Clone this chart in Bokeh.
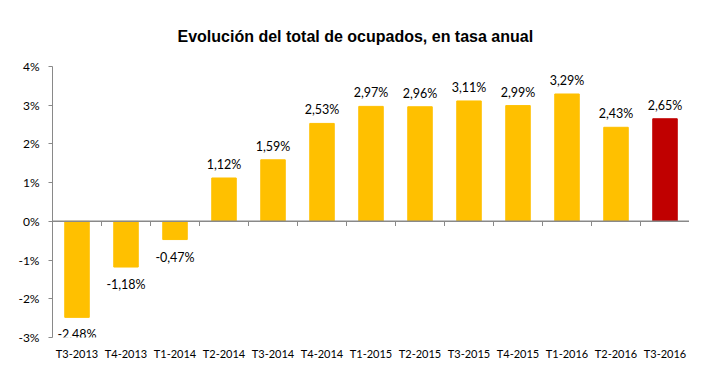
import numpy as np
from bokeh.plotting import figure
from bokeh.models import ColumnDataSource, FixedTicker, Span, Range1d
from bokeh.core.properties import value
from bokeh.embed import file_html
from bokeh.resources import INLINE

categories = ["T3-2013", "T4-2013", "T1-2014", "T2-2014", "T3-2014", "T4-2014", "T1-2015",
              "T2-2015", "T3-2015", "T4-2015", "T1-2016", "T2-2016", "T3-2016"]
values = [-2.48, -1.18, -0.47, 1.12, 1.59, 2.53, 2.97, 2.96, 3.11, 2.99, 3.29, 2.43, 2.65]
labels = ["-2,48%", "-1,18%", "-0,47%", "1,12%", "1,59%", "2,53%", "2,97%", "2,96%", "3,11%",
          "2,99%", "3,29%", "2,43%", "2,65%"]
y_ticks = [-3, -2, -1, 0, 1, 2, 3, 4]
y_tick_labels = ["-3%", "-2%", "-1%", "0%", "1%", "2%", "3%", "4%"]

n = len(categories)
xs = np.arange(n)
colors = ["#FFC000"] * (n - 1) + ["#C00000"]
GRAY = "#898989"

p = figure(width=689, height=362, output_backend="svg", toolbar_location=None,
           x_range=Range1d(-0.5, n - 0.5), y_range=Range1d(-3, 4),
           min_border_left=52, min_border_right=0, min_border_top=66, min_border_bottom=10,
           title="Evolución del total de ocupados, en tasa anual")
p.title.text_font = "Liberation Sans"
p.title.text_font_size = "16px"
p.title.text_font_style = "bold"
p.title.align = "left"
p.title.offset = 125
p.title.standoff = 43
p.title.text_color = "#000000"

src = ColumnDataSource(dict(x=xs, top=values, color=colors))
p.vbar(x="x", top="top", bottom=0, width=0.5, color="color", source=src)

zero = Span(location=0, dimension="width", line_color=GRAY, line_width=1.5)
p.add_layout(zero)

# small boundary ticks on the zero line
bx = np.append(xs[1:] - 0.5, n - 0.5)
p.segment(x0=bx, x1=bx, y0=[0] * len(bx), y1=[-0.12] * len(bx), line_color=GRAY, line_width=1)

# value labels
pos_idx = [i for i, v in enumerate(values) if v >= 0]
neg_idx = [i for i, v in enumerate(values) if v < 0]
p.text(x=[xs[i] for i in pos_idx], y=[values[i] for i in pos_idx], text=[labels[i] for i in pos_idx],
       text_align="center", text_baseline="bottom", y_offset=-6,
       text_font=value("Lato"), text_font_size="12.5px", text_color="#000000")
p.text(x=[xs[i] for i in neg_idx], y=[values[i] for i in neg_idx], text=[labels[i] for i in neg_idx],
       text_align="center", text_baseline="top", y_offset=10,
       text_font=value("Lato"), text_font_size="12.5px", text_color="#000000")

p.xgrid.visible = False
p.ygrid.visible = False
p.outline_line_color = None

xa = p.xaxis[0]
xa.ticker = FixedTicker(ticks=list(xs))
xa.major_label_overrides = {int(i): c for i, c in zip(xs, categories)}
xa.axis_line_color = None
xa.major_tick_line_color = None
xa.minor_tick_line_color = None
xa.major_label_standoff = 3
xa.major_label_text_font = "Lato"
xa.major_label_text_font_size = "11px"
xa.major_label_text_color = "#000000"

ya = p.yaxis[0]
ya.ticker = FixedTicker(ticks=y_ticks)
ya.major_label_overrides = {t: l for t, l in zip(y_ticks, y_tick_labels)}
ya.axis_line_color = GRAY
ya.major_tick_line_color = GRAY
ya.major_tick_out = 4
ya.major_tick_in = 0
ya.minor_tick_line_color = None
ya.major_label_standoff = 9
ya.major_label_text_font = "Lato"
ya.major_label_text_font_size = "12px"
ya.major_label_text_color = "#000000"

open("out.html", "w").write(file_html(p, INLINE))
